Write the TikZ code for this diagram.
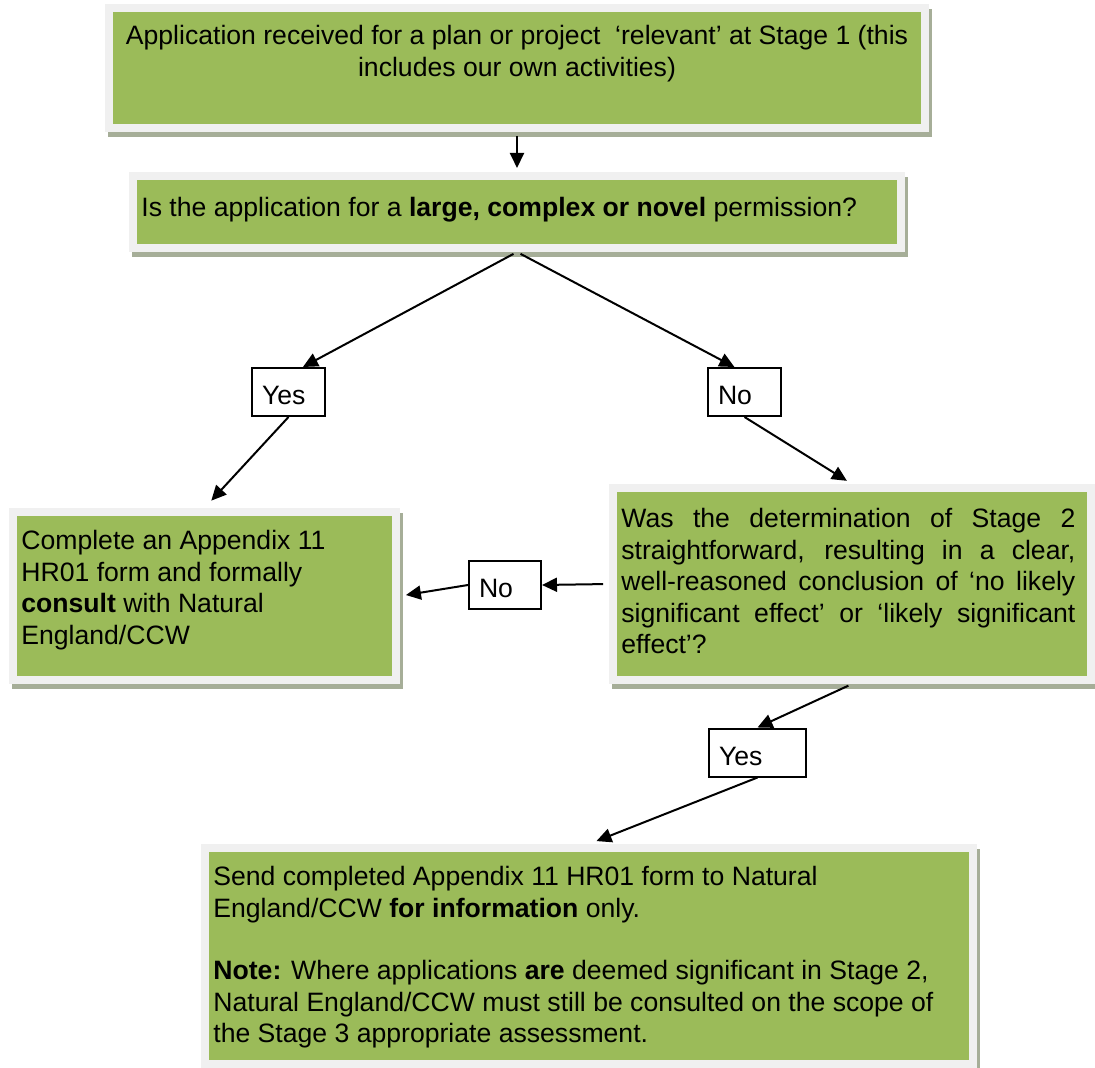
\documentclass[tikz,border=0pt]{standalone}
\usepackage{fontspec}
\setmainfont{Liberation Sans}
\usetikzlibrary{positioning,arrows.meta}
\definecolor{boxgreen}{RGB}{155,187,89}
\definecolor{framegray}{RGB}{240,240,240}
\definecolor{shadowgray}{RGB}{166,174,152}

\begin{document}
\begin{tikzpicture}[
        x=0.5pt, y=-0.5pt,
        >={Triangle[length=7.5pt, width=7pt]},
        box/.style={fill=boxgreen, draw=framegray, line width=4pt, inner sep=0pt,
            preaction={fill=shadowgray, draw=shadowgray, line width=4pt,
                transform canvas={shift={(1.5pt,-2.5pt)}}}},
        txt/.style={inner sep=0pt, font=\fontsize{13.3}{15.8}\selectfont, execute at begin node=\strut},
        tag/.style={draw, fill=white, line width=1pt, font=\fontsize{13.3}{15.8}\selectfont,
            align=left, minimum height=24pt, inner xsep=5pt, text height=12.5pt, text depth=0pt},
        flow/.style={->, line width=1pt},
        node distance=11pt and 6pt
    ]
        \useasboundingbox (0,0) rectangle (1095,1068);

        % green boxes
        \node[box, minimum width=408pt, minimum height=60pt] (b1) at (517,68) {};
        \node[box, minimum width=384pt, minimum height=36pt] (b2) at (517,212) {};
        \node[box, minimum width=191.5pt, minimum height=84pt] (b3) at (204.5,596) {};
        \node[box, minimum width=239pt, minimum height=96pt] (b4) at (852,584) {};
        \node[box, minimum width=384pt, minimum height=108pt] (b5) at (589,956) {};

        \node[txt, align=center, below=10.5pt of b1.north] (t1) {Application received for a plan or project~ ‘relevant’ at Stage 1 (this\\includes our own activities)};
        \node[txt, below right=of b2.north west] (t2) {Is the application for a \textbf{large, complex or novel} permission?};
        \node[txt, align=left, below right=of b3.north west] (t3) {Complete an Appendix 11\\HR01 form and formally\\\textbf{consult} with Natural\\England/CCW};
        \node[txt, text width=227pt, align=justify, below right=10.5pt and 6pt of b4.north west] (t4) {Was the determination of Stage 2\linebreak straightforward, resulting in a clear,\linebreak well-reasoned conclusion of ‘no likely\linebreak significant effect’ or ‘likely significant\linebreak effect’?};
        \node[txt, align=left, below right=of b5.north west] (t5) {Send completed Appendix 11 HR01 form to Natural\\England/CCW \textbf{for information} only.\\[15.3pt]\textbf{Note:} Where applications \textbf{are} deemed significant in Stage 2,\\Natural England/CCW must still be consulted on the scope of\\the Stage 3 appropriate assessment.};

        % answers
        \node[tag, text width=26.5pt] (yes1) at (288.5,392) {Yes};
        \node[tag, text width=26.5pt] (no1) at (744.5,392) {No};
        \node[tag, text width=26pt] (no2) at (505,585) {No};
        \node[tag, text width=38.5pt] (yes2) at (757.5,752.5) {Yes};

        \draw[flow, shorten <=2pt, shorten >=2pt] (b1) -- (b2);
        \draw[flow, shorten <=2pt] (b2.south) -- (yes1.60);
        \draw[flow, shorten <=2pt] (b2.south) -- (no1.112);
        \draw[flow, shorten >=5pt] (yes1.south) -- (b3.north);
        \draw[flow, shorten >=3pt] (no1.south) -- (b4.north);
        \draw[flow, shorten <=3pt] (b4.west) -- (no2.east);
        \draw[flow, shorten >=3pt] (no2.west) -- (b3.east);
        \draw[flow, shorten <=2pt] (b4.south) -- (yes2.north);
        \draw[flow, shorten >=4pt] (yes2.south) -- (b5.north);
\end{tikzpicture}
\end{document}
